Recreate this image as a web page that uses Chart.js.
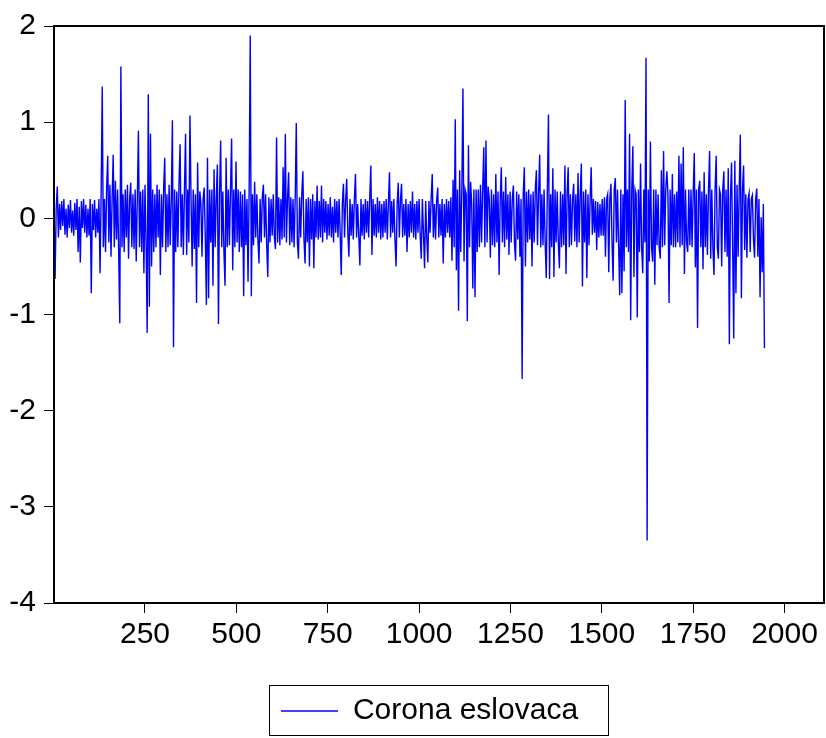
<!DOCTYPE html>
<html>
<head>
<meta charset="utf-8">
<script src="https://cdn.jsdelivr.net/npm/chart.js@4/dist/chart.umd.min.js"></script>
<style>
html,body{margin:0;padding:0;background:#ffffff;}
#wrap{width:826px;height:738px;position:relative;}
</style>
</head>
<body>
<div id="wrap"><canvas id="c" width="826" height="738"></canvas></div>
<script>
// ---- data ----
const seriesName = 'Corona eslovaca';
const obsStart = 1;   // first observation number
const obsStep = 3;    // observations between sampled values
const values = [
  0.12, -0.63, 0.1, 0.33, -0.2, 0.15, -0.12, 0.18, -0.08, 0.2, -0.17, 0.1, -0.2, 0.14, -0.1, 0.19, -0.15, 0.08, -0.18, 0.16,
  -0.12, 0.2, -0.35, 0.12, -0.46, 0.18, -0.1, 0.2, -0.15, 0.14, -0.2, 0.1, -0.18, 0.2, -0.78, 0.15, -0.12, 0.19, -0.2, 0.1,
  -0.15, 0.2, -0.57, 0.25, 1.37, -0.3, 0.2, -0.35, 0.3, 0.65, -0.25, 0.35, -0.4, 0.2, 0.66, -0.3, 0.39, -0.22, 0.3, -0.35,
  -1.09, 1.58, -0.3, 0.25, -0.35, 0.3, -0.2, 0.35, -0.42, 0.2, 0.37, -0.3, 0.25, -0.32, 0.3, -0.45, 0.2, 0.91, -0.3, 0.28,
  -0.35, 0.3, -0.57, 0.35, -0.25, -1.19, 1.29, -0.92, 0.88, -0.5, 0.3, -0.35, 0.25, -0.3, 0.35, -0.2, 0.3, -0.59, 0.25, -0.3,
  0.3, 0.63, -0.35, 0.25, -0.3, 0.35, -0.28, 0.2, 1.02, -1.34, 0.3, -0.35, 0.28, -0.3, 0.35, 0.77, -0.3, 0.25, -0.38, 0.3,
  0.88, -0.38, 0.3, -0.25, 1.07, 0.2, -0.5, 0.3, -0.32, 0.25, -0.88, 0.58, -0.3, 0.28, 0.15, -0.4, 0.2, 0.32, -0.2, -0.9,
  0.63, -0.83, 0.3, -0.25, 0.3, -0.7, 0.51, -0.3, 0.2, 0.56, -1.1, 0.25, 0.81, -0.3, 0.28, -0.35, -0.7, 0.63, -0.3, 0.3,
  -0.28, 0.3, 0.83, -0.54, 0.3, -0.3, 0.59, -0.25, 0.3, -0.35, 0.28, -0.3, 0.25, -0.81, 0.3, -0.28, 0.2, -0.66, 0.3, 1.90,
  -0.81, 0.25, -0.28, 0.38, -0.2, 0.25, -0.22, -0.47, 0.2, -0.25, 0.22, 0.35, -0.2, 0.25, -0.28, -0.61, 0.22, -0.25, 0.2, -0.18,
  0.25, -0.2, -0.32, 0.84, -0.25, 0.22, -0.28, 0.2, -0.22, 0.53, -0.2, 0.88, -0.25, 0.2, 0.48, -0.28, 0.22, -0.25, 0.2, -0.3,
  0.2, 0.99, -0.25, -0.42, 0.22, -0.2, 0.25, 0.49, -0.22, -0.47, 0.2, -0.25, 0.22, -0.5, 0.2, -0.22, 0.25, -0.52, 0.18, -0.2,
  0.34, -0.22, 0.18, -0.2, 0.34, -0.25, 0.2, -0.15, 0.18, -0.22, 0.15, -0.18, 0.22, -0.2, 0.12, -0.25, 0.2, -0.15, 0.18, -0.2,
  0.2, -0.15, -0.59, 0.15, 0.36, -0.2, 0.18, 0.41, -0.15, -0.4, 0.2, -0.18, 0.15, -0.22, 0.2, 0.46, -0.2, 0.15, -0.18, -0.49,
  0.2, -0.18, 0.15, -0.22, 0.2, -0.15, 0.18, -0.2, 0.22, 0.55, -0.38, 0.2, -0.18, 0.15, -0.2, 0.22, -0.15, 0.18, -0.22, 0.15,
  -0.2, 0.18, -0.15, 0.2, -0.22, 0.15, 0.48, -0.2, 0.18, -0.15, 0.2, -0.22, -0.5, 0.15, 0.37, -0.2, 0.18, 0.36, -0.2, 0.15,
  -0.18, 0.2, -0.35, 0.15, -0.2, 0.18, -0.15, 0.28, -0.2, 0.15, -0.22, 0.18, -0.15, 0.2, -0.18, -0.42, 0.2, -0.15, -0.52, 0.18,
  -0.2, -0.46, 0.18, -0.15, 0.2, 0.46, -0.2, 0.15, -0.22, 0.18, 0.32, -0.2, 0.15, -0.18, 0.2, -0.47, 0.15, -0.2, 0.2, -0.15,
  0.18, -0.2, 0.22, -0.44, 0.4, -0.3, 1.03, -0.54, 0.3, -0.96, 0.5, -0.35, 0.3, 1.35, -0.45, 0.3, 0.25, -1.07, 0.76, -0.3,
  0.38, 0.15, -0.73, 0.3, -0.82, 0.3, -0.35, 0.3, -0.3, 0.35, -0.25, 0.3, 0.74, -0.3, 0.81, -0.25, 0.33, 0.2, -0.41, 0.3,
  -0.28, 0.25, -0.3, 0.46, -0.25, 0.28, -0.59, 0.2, 0.53, -0.25, 0.28, -0.3, 0.43, -0.22, 0.25, -0.38, 0.28, -0.25, 0.2, 0.34,
  -0.25, -0.44, 0.28, -0.22, 0.25, -0.4, 0.2, -1.67, 0.25, 0.53, -0.5, 0.28, -0.25, 0.3, -0.22, 0.25, -0.5, 0.28, -0.25, 0.3,
  0.5, -0.28, 0.25, 0.66, -0.3, 0.25, -0.28, 0.3, -0.25, -0.62, 0.3, 1.08, -0.63, 0.25, -0.3, 0.52, -0.61, 0.3, -0.25, 0.28,
  -0.25, -0.52, 0.28, -0.3, 0.25, -0.28, 0.55, -0.58, 0.25, 0.53, -0.3, 0.25, -0.28, 0.2, 0.36, -0.24, 0.25, -0.3, 0.47, -0.25,
  0.25, 0.57, -0.71, 0.28, -0.25, 0.3, -0.62, 0.25, -0.28, 0.2, 0.53, -0.17, 0.2, -0.15, 0.18, -0.33, 0.17, -0.2, 0.15, -0.18,
  0.2, -0.18, 0.22, -0.4, 0.2, 0.25, -0.56, 0.2, 0.36, -0.25, -0.65, 0.3, 0.42, -0.25, 0.3, -0.28, -0.8, 0.3, -0.78, 0.25,
  -0.55, 1.23, -0.3, 0.3, -0.35, 0.88, -1.06, 0.3, 0.75, -0.61, 0.3, 0.25, -1.03, 0.3, -0.35, 0.57, -0.3, -0.57, 0.3, -0.25,
  1.67, -3.35, 0.3, -0.45, 0.8, -0.3, -0.45, 0.3, -0.69, 0.3, -0.28, 0.25, -0.3, -0.42, 0.5, -0.3, 0.70, -0.28, 0.3, 0.49,
  0.25, -0.88, 0.3, -0.28, 0.46, -0.3, 0.25, -0.3, 0.28, -0.25, 0.65, -0.3, 0.57, -0.28, 0.74, -0.58, 0.3, -0.25, -0.35, 0.3,
  -0.28, 0.3, -0.3, 0.25, 0.68, -0.51, 0.3, -1.14, 0.3, 0.39, -0.3, 0.28, -0.53, 0.48, -0.3, 0.25, -0.38, 0.3, 0.70, -0.42,
  0.3, -0.3, -0.59, 0.3, 0.65, -0.3, -0.42, 0.3, 0.25, -0.5, 0.3, 0.49, -0.35, 0.3, -0.4, 0.52, -1.31, 0.2, 0.58, -0.3,
  -1.25, 0.6, -0.78, 0.35, -0.4, 0.3, 0.87, -0.83, 0.3, 0.55, -0.33, 0.25, -0.41, 0.2, 0.26, -0.35, 0.2, 0.24, -0.22, -0.41,
  0.2, 0.31, -0.4, 0.2, -0.82, 0.01, -0.56, 0.15, -1.35
];
const xTicks = [250, 500, 750, 1000, 1250, 1500, 1750, 2000];
const yTicks = [-4, -3, -2, -1, 0, 1, 2];
const xMin = 1, xMax = 2108;
const yMin = -4, yMax = 2;

// observation numbers (categories) for each sampled value
const observations = values.map((_, i) => obsStart + i * obsStep);
const points = observations.map((x, i) => ({ x: x, y: values[i] }));

const FONT = { family: "'Liberation Sans', Arial, Helvetica, sans-serif", size: 30 };

const framePlugin = {
  id: 'frame',
  afterLayout(chart) {
    // legend block sits a little left of the plot centre, as in the original
    const lg = chart.legend;
    if (lg) {
      lg.left = 35;
      lg.width = lg.right - lg.left;
    }
  },
  afterDatasetsDraw(chart) {
    const { ctx, chartArea: a } = chart;
    ctx.save();
    ctx.strokeStyle = '#000';
    ctx.lineWidth = 2;
    ctx.strokeRect(a.left, a.top, a.right - a.left, a.bottom - a.top);
    ctx.restore();
  },
  afterDraw(chart) {
    const lg = chart.legend;
    if (!lg || !lg.legendHitBoxes || !lg.legendHitBoxes.length) return;
    const hb = lg.legendHitBoxes[0];
    const ctx = chart.ctx;
    const cy = hb.top + hb.height / 2;
    const x1 = Math.round(hb.left - 12) + 0.5;
    const x2 = Math.round(hb.left + hb.width + 30) + 0.5;
    const y1 = Math.round(cy - 26) + 0.5;
    const y2 = Math.round(cy + 24) + 0.5;
    ctx.save();
    ctx.strokeStyle = '#000';
    ctx.lineWidth = 1;
    ctx.strokeRect(x1, y1, x2 - x1, y2 - y1);
    ctx.restore();
  }
};

new Chart(document.getElementById('c').getContext('2d'), {
  type: 'line',
  data: {
    datasets: [{
      label: seriesName,
      data: points,
      borderColor: '#0000ff',
      backgroundColor: '#0000ff',
      borderWidth: 1.4,
      pointRadius: 0,
      tension: 0,
      fill: false
    }]
  },
  options: {
    responsive: false,
    animation: false,
    devicePixelRatio: 1,
    layout: { padding: { top: 26, right: 2, bottom: 2, left: 4 } },
    scales: {
      x: {
        type: 'linear',
        min: xMin,
        max: xMax,
        afterBuildTicks: s => { s.ticks = xTicks.map(v => ({ value: v })); },
        afterFit: s => { s.height = 50; },
        grid: { drawOnChartArea: false, drawTicks: true, tickLength: 10, color: '#000', lineWidth: 1 },
        border: { display: false },
        ticks: { color: '#000', font: FONT, padding: 4, maxRotation: 0, autoSkip: false,
                 callback: v => String(v) }
      },
      y: {
        type: 'linear',
        min: yMin,
        max: yMax,
        afterBuildTicks: s => { s.ticks = yTicks.map(v => ({ value: v })); },
        afterFit: s => { s.width = 50; },
        grid: { drawOnChartArea: false, drawTicks: true, tickLength: 10, color: '#000', lineWidth: 1 },
        border: { display: false },
        ticks: { color: '#000', font: FONT, padding: 8, autoSkip: false,
                 callback: v => String(v) }
      }
    },
    plugins: {
      legend: {
        position: 'bottom',
        fullSize: true,
        labels: {
          color: '#000',
          font: FONT,
          boxWidth: 57,
          boxHeight: 1.5,
          padding: 43,
          generateLabels: chart => {
            const items = Chart.defaults.plugins.legend.labels.generateLabels(chart);
            items.forEach(it => { it.lineWidth = 0; it.fillStyle = '#0000ff'; });
            return items;
          }
        }
      },
      tooltip: { enabled: false }
    }
  },
  plugins: [framePlugin]
});
</script>
</body>
</html>
